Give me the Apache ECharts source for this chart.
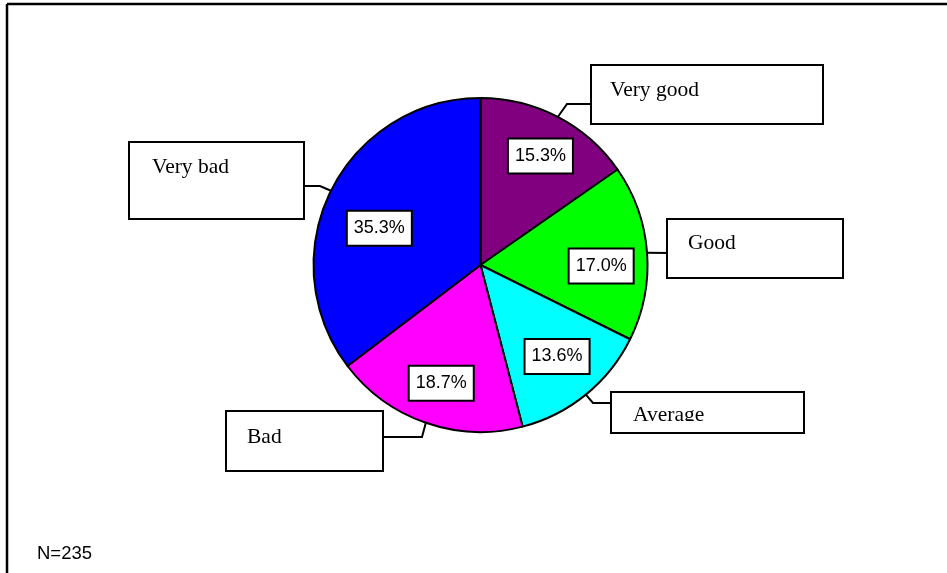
<!DOCTYPE html>
<html>
<head>
<meta charset="utf-8">
<script src="https://cdn.jsdelivr.net/npm/echarts@6/dist/echarts.min.js"></script>
<style>
  html, body { margin: 0; padding: 0; background: #ffffff; }
  #chart { width: 947px; height: 573px; }
</style>
</head>
<body>
<div id="chart"></div>
<script>
// Survey ratings (percent of respondents)
const categories = ['Very good', 'Good', 'Average', 'Bad', 'Very bad'];
const shares = [15.3, 17.0, 13.6, 18.7, 35.3];
const sliceColors = ['#800080', '#00ff00', '#00ffff', '#ff00ff', '#0000ff'];
const sampleNote = 'N=235';

// Callout boxes: [left, top, width, height, padLeft, padTop]
const calloutBoxes = [
  [592, 66, 230, 57, 18, 13],
  [668, 220, 174, 57, 20, 12],
  [612, 393, 191, 39, 21, 11],
  [227, 412, 155, 58, 20, 14],
  [130, 143, 173, 75, 22, 13]
];
// Leader line bends after leaving the pie rim, ending on the box edge
const leaderBends = [
  [[567, 104], [592, 104]],
  [[668, 253]],
  [[593, 403], [612, 403]],
  [[422, 437], [382, 437]],
  [[320, 186], [303, 186]]
];
// Small offsets for the percentage tags inside the slices
const tagNudges = [[3, 0], [-2, 10], [-1, -4], [1, 2], [9, 18]];

const PIE_CENTER = [480.5, 265];
const PIE_RADIUS = 167;
const LINE_H = 22;

const outerData = categories.map((name, i) => {
  const b = calloutBoxes[i];
  const padBottom = b[3] - b[5] - LINE_H;
  return {
    name: name,
    value: shares[i],
    itemStyle: { color: sliceColors[i] },
    label: {
      width: b[2] - b[4],
      padding: [b[5], 0, padBottom, b[4]]
    }
  };
});

const innerData = categories.map((name, i) => ({ name: name, value: shares[i] }));

const chart = echarts.init(document.getElementById('chart'), null, { renderer: 'canvas' });

chart.setOption({
  backgroundColor: '#ffffff',
  animation: false,
  graphic: [
    { type: 'line', shape: { x1: 7, y1: 4, x2: 947, y2: 4 }, style: { stroke: '#000', lineWidth: 2.5 } },
    { type: 'line', shape: { x1: 7, y1: 4, x2: 7, y2: 573 }, style: { stroke: '#000', lineWidth: 2.5 } },
    {
      type: 'text', left: 37, top: 544,
      style: { text: sampleNote, fill: '#000', font: '18.5px "Liberation Sans", Arial, sans-serif' }
    },
    // the "Average" box crops the lower edge of its caption
    {
      type: 'rect', z: 100,
      shape: { x: 613, y: 421, width: 189, height: 10 },
      style: { fill: '#fff' }
    }
  ],
  series: [
    {
      type: 'pie',
      center: PIE_CENTER,
      radius: PIE_RADIUS,
      startAngle: 90,
      clockwise: true,
      sort: false,
      silent: true,
      itemStyle: { borderColor: '#000', borderWidth: 2 },
      label: {
        show: true,
        position: 'outside',
        formatter: '{b}',
        color: '#000',
        fontFamily: '"Liberation Serif", "Times New Roman", serif',
        fontSize: 21.5,
        lineHeight: LINE_H,
        backgroundColor: '#fff',
        borderColor: '#000',
        borderWidth: 2,
        align: 'left'
      },
      labelLine: {
        show: true,
        length: 10,
        length2: 10,
        lineStyle: { color: '#000', width: 2 }
      },
      labelLayout: function (params) {
        const i = params.dataIndex;
        const b = calloutBoxes[i];
        const pts = params.labelLinePoints;
        const start = pts && pts.length ? pts[0] : null;
        const out = { x: b[0], y: b[1], align: 'left', verticalAlign: 'top' };
        if (start) {
          out.labelLinePoints = [start].concat(leaderBends[i]);
        }
        return out;
      },
      emphasis: { disabled: true },
      data: outerData
    },
    {
      type: 'pie',
      center: PIE_CENTER,
      radius: [73, PIE_RADIUS],
      startAngle: 90,
      clockwise: true,
      sort: false,
      silent: true,
      itemStyle: { color: 'rgba(0,0,0,0)', borderWidth: 0 },
      label: {
        show: true,
        position: 'inside',
        formatter: (p) => p.value.toFixed(1) + '%',
        color: '#000',
        fontFamily: '"Liberation Sans", Arial, sans-serif',
        fontSize: 18,
        lineHeight: 21,
        backgroundColor: '#fff',
        borderColor: '#000',
        borderWidth: 2,
        padding: [6, 6, 6, 6]
      },
      labelLine: { show: false },
      labelLayout: function (params) {
        const n = tagNudges[params.dataIndex];
        return { dx: n[0], dy: n[1] };
      },
      emphasis: { disabled: true },
      data: innerData
    }
  ]
});
</script>
</body>
</html>
